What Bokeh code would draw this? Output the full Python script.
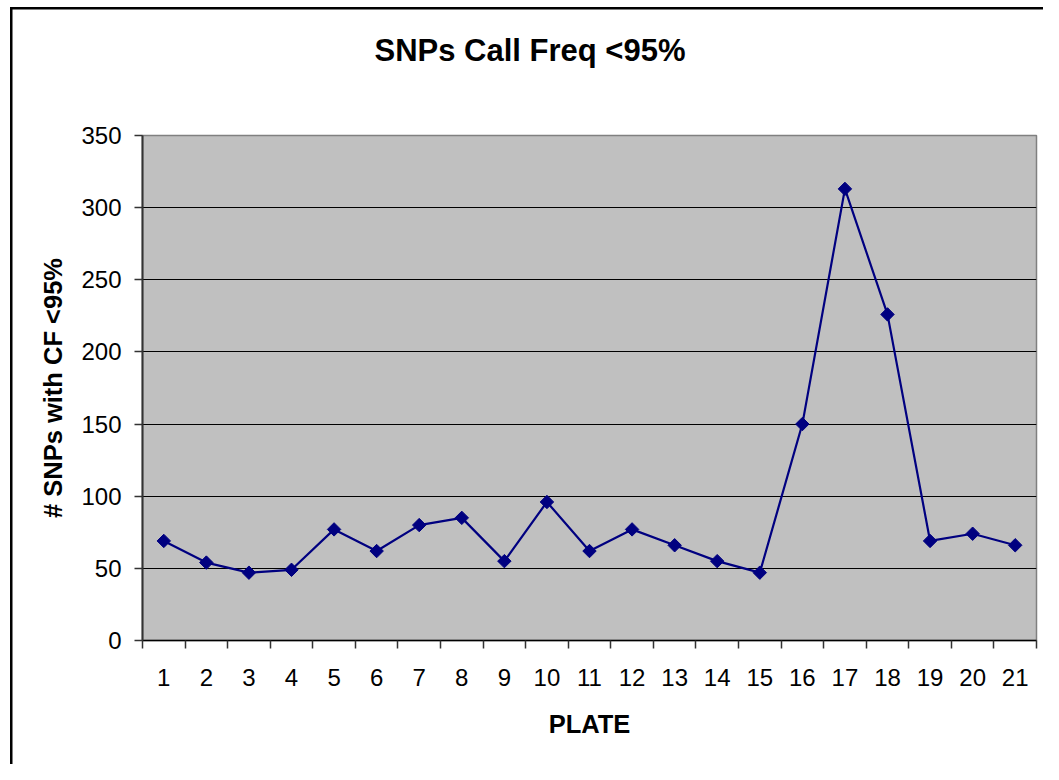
import math
from bokeh.plotting import figure
from bokeh.models import FixedTicker, Range1d, Title
from bokeh.embed import file_html
from bokeh.resources import INLINE

plates = list(range(1, 22))
snps_cf_below_95 = [69, 54, 47, 49, 77, 62, 80, 85, 55, 96, 62,
                    77, 66, 55, 47, 150, 313, 226, 69, 74, 66]
y_ticks = [0, 50, 100, 150, 200, 250, 300, 350]
chart_title = "SNPs Call Freq <95%"

FONT = "Liberation Sans"

W, H = 1043, 764
ML, MT, MR, MB = 142, 135, 7, 124

p = figure(width=W, height=H, output_backend="svg", toolbar_location=None,
           x_range=Range1d(0.5, 21.5), y_range=Range1d(0, 350),
           min_border_left=ML, min_border_top=MT, min_border_bottom=MB,
           min_border_right=MR)

# outer chart border (left and top edges) drawn as the host background
p.border_fill_color = None
p.styles = {
    "background": "linear-gradient(#000,#000) 10px 7px / 2.5px 100% no-repeat, "
                  "linear-gradient(#000,#000) 10px 7px / 100% 2.5px no-repeat, #ffffff"
}

p.background_fill_color = "#C0C0C0"
p.outline_line_color = "#808080"
p.outline_line_width = 1.5

# spacer panel between frame and title, then the title itself
p.add_layout(Title(text=" ", text_font_size="10px", standoff=55), "above")
p.add_layout(Title(text=chart_title, align="left", offset=232, standoff=0,
                   text_font=FONT, text_font_size="31px", text_font_style="bold",
                   text_color="black"), "above")

# grid
p.xgrid.grid_line_color = None
p.ygrid.grid_line_color = "black"
p.ygrid.grid_line_width = 1.2
p.ygrid.ticker = FixedTicker(ticks=y_ticks)

# x axis: labels at centres, tick marks between categories
xa = p.xaxis[0]
xa.ticker = FixedTicker(ticks=plates, minor_ticks=[x + 0.5 for x in range(0, 22)])
xa.major_tick_line_color = None
xa.major_tick_out = 8
xa.major_tick_in = 0
xa.minor_tick_line_color = "#333333"
xa.minor_tick_line_width = 1.5
xa.minor_tick_out = 8
xa.minor_tick_in = 0
xa.axis_line_color = "black"
xa.axis_line_width = 1.5
xa.major_label_text_font = FONT
xa.major_label_text_font_size = "24px"
xa.major_label_text_color = "black"
xa.major_label_standoff = 20
xa.axis_label = "PLATE"
xa.axis_label_text_font = FONT
xa.axis_label_text_font_size = "25.5px"
xa.axis_label_text_font_style = "bold"
xa.axis_label_text_color = "black"
xa.axis_label_standoff = 21

ya = p.yaxis[0]
ya.ticker = FixedTicker(ticks=y_ticks)
ya.major_tick_line_color = "#333333"
ya.major_tick_line_width = 1.5
ya.major_tick_out = 8
ya.major_tick_in = 0
ya.minor_tick_line_color = None
ya.axis_line_color = "#333333"
ya.axis_line_width = 2
ya.major_label_text_font = FONT
ya.major_label_text_font_size = "24px"
ya.major_label_text_color = "black"
ya.major_label_standoff = 13
ya.axis_label = "# SNPs with CF <95%"
ya.axis_label_text_font = FONT
ya.axis_label_text_font_size = "25.5px"
ya.axis_label_text_font_style = "bold"
ya.axis_label_text_color = "black"
ya.axis_label_standoff = 11

p.line(plates, snps_cf_below_95, line_color="#000080", line_width=2.2)
p.scatter(plates, snps_cf_below_95, marker="square", angle=math.pi / 4, size=9.5,
          fill_color="#000080", line_color="#000080", line_width=1)

open("out.html", "w").write(file_html(p, INLINE))
